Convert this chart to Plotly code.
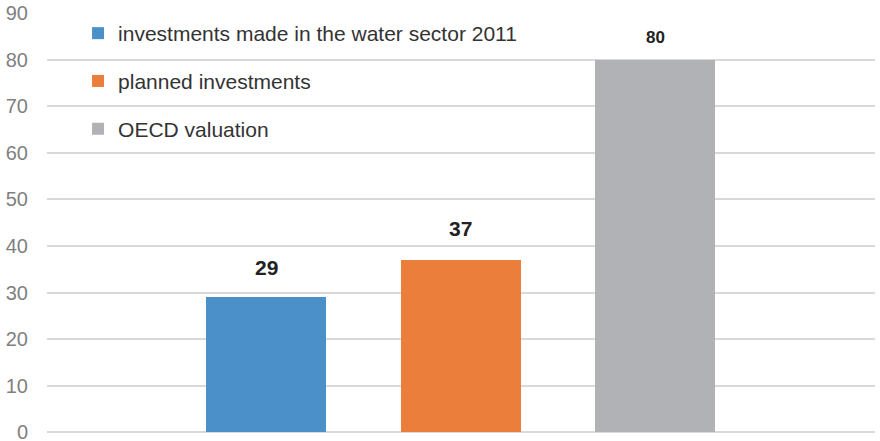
import plotly.graph_objects as go

# Series shown as separate bars, one per legend entry
series_names = [
    "investments made in the water sector 2011",
    "planned investments",
    "OECD valuation",
]
series_values = [29, 37, 80]
series_positions = [0, 1, 2]
series_colors = ["#4B90C8", "#EC7E3B", "#B1B2B5"]

y_ticks = [0, 10, 20, 30, 40, 50, 60, 70, 80, 90]

# Style of the value labels above the bars
label_sizes = [21, 21, 17]
label_offsets = [30, 31, 22]

FONT = "Liberation Sans, Arial, Helvetica, sans-serif"

fig = go.Figure()
for name, pos, val, col in zip(series_names, series_positions, series_values, series_colors):
    fig.add_trace(go.Bar(
        x=[pos], y=[val], name=name, legendgroup=name,
        marker=dict(color=col, line=dict(width=0)),
        width=0.617, hoverinfo="skip",
    ))

for pos, val, size, off in zip(series_positions, series_values, label_sizes, label_offsets):
    fig.add_annotation(
        x=pos, y=val, text=f"<b>{val}</b>", showarrow=False,
        yanchor="middle", yshift=off,
        font=dict(family=FONT, size=size, color="#222222"),
    )

fig.update_layout(
    width=880, height=441,
    margin=dict(l=47, r=5, t=13, b=8),
    paper_bgcolor="white", plot_bgcolor="white",
    font=dict(family=FONT, size=20, color="#333333"),
    showlegend=True,
    legend=dict(
        x=0.0375, y=1.0, xanchor="left", yanchor="top",
        traceorder="grouped", tracegroupgap=17.5,
        bgcolor="rgba(0,0,0,0)",
        font=dict(family=FONT, size=21, color="#333333"),
    ),
    bargap=0,
    xaxis=dict(
        range=[-1.126, 3.131], showticklabels=False, showgrid=False,
        zeroline=False, showline=False, fixedrange=True, automargin=False,
    ),
    yaxis=dict(
        range=[-0.15, 90], tickvals=y_ticks, showgrid=True,
        gridcolor="#D9D9D9", gridwidth=1.5,
        zeroline=True, zerolinecolor="#D9D9D9", zerolinewidth=1.5,
        showline=False, layer="below traces", automargin=False,
        ticks="", ticklabelstandoff=18, ticklabeloverflow="allow",
        tickfont=dict(family=FONT, size=20, color="#7F7F7F"),
    ),
)

fig.write_html("out.html")
